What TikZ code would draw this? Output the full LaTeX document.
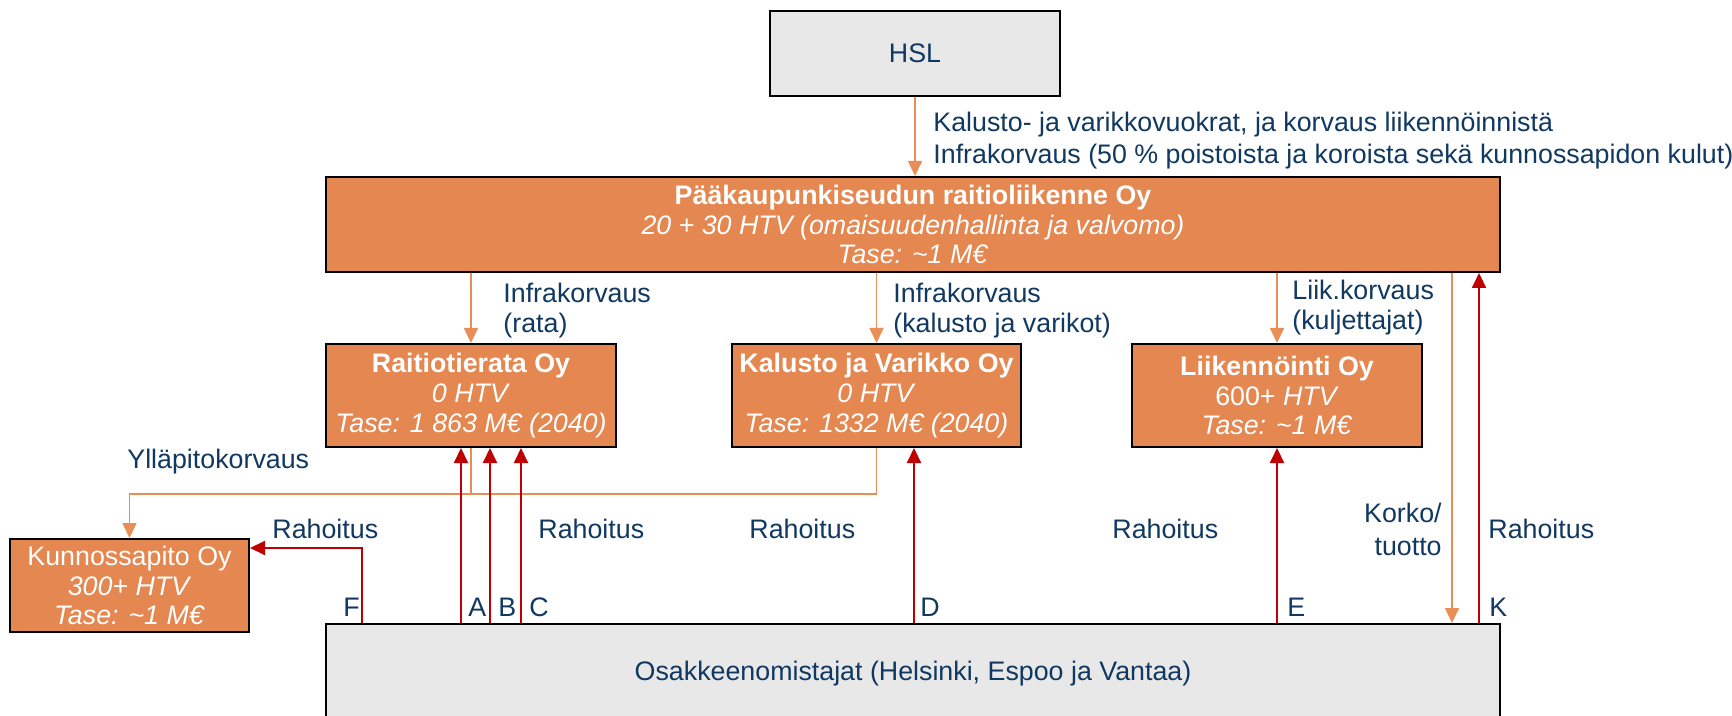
\documentclass[tikz,border=0pt]{standalone}
\usepackage{fontspec}
\setmainfont{Liberation Sans}
\usetikzlibrary{arrows.meta}
\definecolor{boxorange}{RGB}{228,135,80}
\definecolor{lineorange}{RGB}{234,142,88}
\definecolor{linered}{RGB}{192,0,0}
\definecolor{navy}{RGB}{16,56,96}
\definecolor{boxgray}{RGB}{232,232,232}
\tikzset{
  orgbox/.style={draw=black, line width=1pt, fill=boxorange, text=white, align=center, inner sep=0pt, font=\fontsize{13.4}{14.8}\selectfont},
  graybox/.style={draw=black, line width=1pt, fill=boxgray, text=navy, align=center, inner sep=0pt, font=\fontsize{13.4}{14.8}\selectfont},
  lbl/.style={text=navy, inner sep=0pt, anchor=west, align=left, font=\fontsize{13.4}{14.8}\selectfont},
  oarr/.style={draw=lineorange, line width=0.8pt, -{Triangle[length=7.5pt,width=7pt]}},
  oline/.style={draw=lineorange, line width=0.8pt},
  rarr/.style={draw=linered, line width=1pt, -{Triangle[length=7.5pt,width=7pt]}},
}
\begin{document}
\begin{tikzpicture}[x=0.5pt,y=-0.5pt]
\useasboundingbox (0,0) rectangle (1732,716);
\clip (0,0) rectangle (1732,716);
% boxes
\node[graybox, minimum width=145pt, minimum height=42.5pt] (hsl) at (915,53.5) {HSL};
\node[orgbox, minimum width=587pt, minimum height=47.5pt] (main) at (913,224.5)
  {\textbf{Pääkaupunkiseudun raitioliikenne Oy}\\ \textit{20 + 30 HTV (omaisuudenhallinta ja valvomo)}\\ \textit{Tase: \textasciitilde1 M€}};
\node[orgbox, minimum width=145pt, minimum height=51.5pt] (rata) at (471,395.5)
  {\textbf{Raitiotierata Oy}\\ \textit{0 HTV}\\ \textit{Tase: 1 863 M€ (2040)}};
\node[orgbox, minimum width=144.5pt, minimum height=51.5pt] (kal) at (876.5,395.5)
  {\textbf{Kalusto ja Varikko Oy}\\ \textit{0 HTV}\\ \textit{Tase: 1332 M€ (2040)}};
\node[orgbox, minimum width=145pt, minimum height=51.5pt] (liik) at (1277,395.5)
  {\textbf{Liikennöinti Oy}\\ 600+ \textit{HTV}\\ \textit{Tase: \textasciitilde1 M€}};
\node[orgbox, minimum width=119.5pt, minimum height=46.5pt] (kun) at (129.5,585.5)
  {Kunnossapito Oy\\ \textit{300+ HTV}\\ \textit{Tase: \textasciitilde1 M€}};
\node[graybox, minimum width=587pt, minimum height=50pt] (osak) at (913,674)
  {Osakkeenomistajat (Helsinki, Espoo ja Vantaa)};
% labels
\node[lbl, font=\fontsize{13.4}{16}\selectfont] (lhsl) at (933,141)
  {Kalusto- ja varikkovuokrat, ja korvaus liikennöinnistä\\Infrakorvaus (50 \% poistoista ja koroista sekä kunnossapidon kulut)};
\node[lbl] (lrata) at (503,310.5) {Infrakorvaus\\(rata)};
\node[lbl] (lkal) at (893,310.5) {Infrakorvaus\\(kalusto ja varikot)};
\node[lbl] (lliik) at (1292,307.5) {Liik.korvaus\\(kuljettajat)};
\node[lbl] (lyll) at (127,462) {Ylläpitokorvaus};
\node[lbl] (rF) at (272,529) {Rahoitus};
\node[lbl] (rC) at (538,529) {Rahoitus};
\node[lbl] (rD) at (749,529) {Rahoitus};
\node[lbl] (rE) at (1112,529) {Rahoitus};
\node[lbl, anchor=east, align=right, font=\fontsize{13.4}{16.5}\selectfont] (lkorko) at (1442,529) {Korko/\\tuotto};
\node[lbl] (rK) at (1488,529) {Rahoitus};
\node[lbl] (tF) at (343,607) {F};
\node[lbl] (tA) at (468,607) {A};
\node[lbl] (tB) at (498,607) {B};
\node[lbl] (tC) at (529,607) {C};
\node[lbl] (tD) at (920,607) {D};
\node[lbl] (tE) at (1287,607) {E};
\node[lbl] (tK) at (1489,607) {K};
% orange connectors
\draw[oarr] (hsl.south) -- (hsl.south |- main.north);
\draw[oarr] (main.south -| rata.north) -- (rata.north);
\draw[oarr] (main.south -| kal.north) -- (kal.north);
\draw[oarr] (main.south -| liik.north) -- (liik.north);
\coordinate (ko1) at ([xshift=-24.5pt]main.south east);
\draw[oarr] (ko1) -- (ko1 |- osak.north);
\draw[oarr] (kal.south) -- ++(0,46) -| (kun.north);
\draw[oline] (rata.south) -- ++(0,46);
% red connectors
\coordinate (ca) at ([xshift=-5pt]rata.south);
\coordinate (cb) at ([xshift=9.5pt]rata.south);
\coordinate (cc) at ([xshift=25pt]rata.south);
\coordinate (cd) at ([xshift=18.75pt]kal.south);
\coordinate (ck) at ([xshift=-11pt]main.south east);
\draw[rarr] (ca |- osak.north) -- (ca);
\draw[rarr] (cb |- osak.north) -- (cb);
\draw[rarr] (cc |- osak.north) -- (cc);
\draw[rarr] (cd |- osak.north) -- (cd);
\draw[rarr] (liik.south |- osak.north) -- (liik.south);
\draw[rarr] (ck |- osak.north) -- (ck);
\coordinate (f1) at ([xshift=18.5pt]osak.north west);
\coordinate (f2) at ([yshift=-5pt]kun.north east);
\draw[rarr] (f1) |- (f2);
\end{tikzpicture}
\end{document}
